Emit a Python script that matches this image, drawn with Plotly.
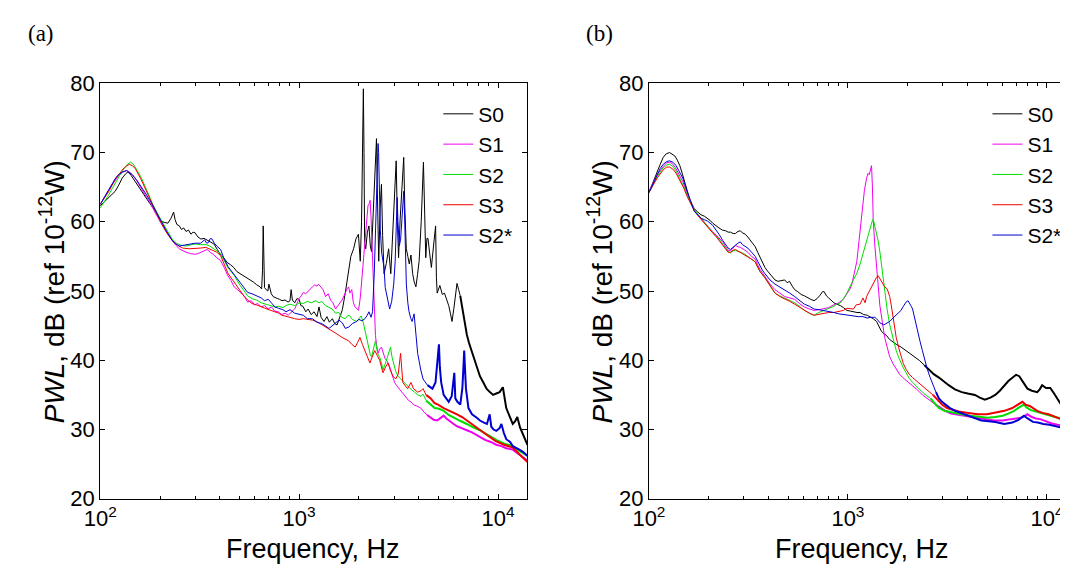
import plotly.graph_objects as go

# ---------------- data ----------------
names = ["S0", "S1", "S2", "S3", "S2*"]
colors = ["#000000", "#f000f0", "#00dd00", "#f00000", "#0000d0"]

# panel (a)
a_f_S0 = [100,106,111,115,119,124,129,134,138,143,150,158,168,178,188,196,203,210,219,227,234,238,243,250,256,263,270,278,286,293,300,310,321,333,346,358,373,388,403,418,435,452,469,487,506,526,546,568,589,612,636,648,655,660,664,670,683,697,705,713,725,740,760,780,798,820,850,880,900,912,925,950,975,1000,1020,1045,1081,1110,1150,1190,1230,1259,1290,1334,1380,1420,1470,1510,1552,1600,1650,1706,1740,1774,1820,1879,1930,1987,2030,2060,2085,2104,2120,2135,2163,2205,2245,2280,2313,2360,2410,2449,2475,2514,2555,2594,2630,2674,2745,2819,2890,2960,3030,3076,3120,3163,3220,3290,3357,3400,3459,3520,3581,3650,3723,3790,3865,3940,4012,4110,4217,4280,4333,4390,4446,4530,4624,4740,4855,4900,4945,5100,5250,5380,5520,5650,5760,5872,6000,6120,6220,6340,6460,6650,6840,6970,7150,7350,7516,7700,7900,8110,8400,8755,9100,9447,9800,10190,10580,10800,11000,11400,11860,12200,12500,12900,13400,13800,14060]
a_db_S0 = [62.3,63.0,63.7,64.0,64.4,65.3,66.3,66.9,67.2,66.7,65.8,64.7,63.6,62.6,61.7,60.8,60.1,59.9,59.8,60.5,61.4,60.3,59.6,59.4,58.9,59.1,58.6,58.8,58.2,58.5,58.4,57.8,57.5,57.6,57.3,57.1,56.8,56.0,55.2,54.8,54.1,53.8,53.4,52.8,52.5,52.3,52.0,51.6,51.3,50.9,50.6,50.3,53.0,59.4,53.5,50.5,50.2,50.0,51.0,50.2,49.6,49.2,49.0,48.9,48.8,48.6,48.7,48.4,48.6,50.2,48.7,48.3,48.9,48.8,47.9,47.8,47.0,47.4,46.6,47.0,46.3,47.7,46.2,45.6,46.3,45.5,46.0,45.3,45.1,46.2,47.3,49.7,51.5,52.5,55.0,56.1,57.5,58.2,54.3,60.0,72.0,79.2,70.0,57.0,56.1,58.5,59.4,56.5,55.7,62.0,69.0,72.0,64.0,54.3,62.0,65.4,58.0,52.5,54.0,56.1,52.5,58.0,64.0,68.8,60.0,54.8,60.3,65.0,69.3,62.0,56.1,55.0,53.9,55.2,52.5,51.3,50.6,52.4,54.3,60.0,68.6,61.0,54.8,57.6,57.6,55.5,53.4,56.5,59.4,52.0,49.7,50.8,49.5,49.7,48.8,47.9,46.8,45.6,47.5,49.5,51.1,50.2,49.3,47.2,45.1,43.7,42.5,41.4,40.5,39.5,38.6,37.7,36.9,35.9,35.4,35.0,35.2,35.4,36.1,34.5,33.1,32.0,30.8,31.2,31.8,30.3,29.2,28.3,27.8]

a_f_S1 = [100,105,110,115,120,125,130,136,141,145,152,160,170,180,190,200,210,220,230,240,250,260,270,285,300,310,320,332,345,357,370,386,403,420,437,455,471,490,510,530,551,575,597,620,645,670,698,725,755,785,817,850,883,915,955,985,1000,1030,1050,1080,1110,1140,1167,1200,1230,1250,1290,1320,1358,1400,1440,1480,1524,1560,1600,1644,1700,1740,1775,1800,1840,1870,1900,1940,1990,2030,2070,2110,2150,2190,2220,2250,2275,2300,2330,2360,2390,2420,2450,2495,2540,2594,2640,2700,2780,2850,2930,3020,3100,3200,3290,3381,3450,3550,3648,3750,3900,4090,4250,4400,4586,4750,4945,5150,5330,5500,5700,5980,6200,6500,6970,7400,7800,8110,8600,9200,9790,10400,11000,11860,12600,13300,14060]
a_db_S1 = [62.5,63.6,64.5,65.4,66.2,66.8,67.2,67.4,67.1,66.8,66.0,65.0,63.8,62.5,61.2,60.0,59.0,58.1,57.3,56.6,56.1,55.8,55.6,55.4,55.3,55.4,55.6,55.8,56.0,55.6,55.3,54.8,54.4,53.4,52.3,51.5,50.6,50.2,49.8,49.3,48.4,48.6,48.0,48.2,47.7,47.9,47.4,47.7,47.1,47.0,46.6,46.8,46.5,47.0,47.5,48.5,48.9,49.4,49.8,49.6,50.0,50.3,50.6,50.9,50.7,51.0,50.5,50.2,49.2,49.6,48.7,48.3,47.4,47.8,48.2,48.7,49.6,50.3,50.6,49.7,50.2,48.5,47.8,47.5,47.2,49.0,52.0,55.0,58.5,61.0,62.3,62.6,63.1,60.5,56.0,51.0,46.5,43.6,42.3,41.0,41.6,41.9,41.2,40.3,39.8,39.1,38.0,36.8,36.3,35.8,35.5,35.0,34.7,34.2,34.0,33.6,33.4,33.1,32.5,32.1,31.7,31.4,31.3,31.7,32.0,31.6,31.2,30.8,30.5,30.3,29.9,29.6,29.2,29.0,28.5,28.2,27.8,27.6,27.3,27.1,26.5,26.0,25.5]

a_f_S2 = [100,105,110,115,120,126,132,137,142,146,152,160,170,184,200,215,230,242,255,270,285,300,320,340,355,370,386,403,420,440,471,500,530,551,580,610,645,680,720,755,790,829,860,900,950,1002,1050,1100,1150,1213,1260,1300,1358,1420,1466,1524,1580,1640,1706,1750,1790,1850,1950,2000,2050,2100,2150,2228,2280,2313,2370,2420,2480,2540,2600,2641,2720,2800,2882,2930,2990,3060,3143,3260,3381,3480,3620,3800,3945,4100,4200,4350,4586,4800,5050,5330,5650,5980,6400,6970,7500,8110,8900,9790,10700,11860,12800,14060]
a_db_S2 = [62.0,62.9,63.8,64.8,65.8,66.8,67.7,68.3,68.6,68.4,67.6,66.5,64.8,62.5,60.5,59.0,57.5,56.9,56.6,56.5,56.6,56.8,56.7,56.7,56.5,56.2,55.8,55.4,54.4,53.3,52.3,51.0,50.0,49.3,48.9,48.7,48.3,48.1,47.9,47.7,47.8,47.6,47.9,48.1,47.9,48.3,48.2,48.5,48.3,48.6,48.3,48.5,47.9,47.6,47.4,46.8,46.9,46.2,46.0,46.4,46.5,45.9,45.6,46.0,46.4,45.5,44.0,41.9,40.8,40.5,42.0,42.8,41.0,40.5,39.5,38.6,39.6,40.8,41.9,40.5,39.5,38.4,37.7,37.2,36.8,36.3,35.9,35.4,35.0,34.8,35.1,34.2,33.6,33.1,33.0,32.7,32.1,31.7,31.3,30.8,30.3,29.9,29.2,28.5,28.0,27.6,26.9,26.2]

a_f_S3 = [100,105,110,115,120,125,130,135,140,145,150,160,170,180,190,200,215,230,245,260,280,300,320,340,355,370,386,403,420,440,471,500,530,551,580,610,645,680,720,755,790,820,860,900,950,1000,1050,1100,1167,1240,1310,1390,1466,1550,1644,1710,1775,1840,1914,1970,2023,2080,2143,2210,2270,2340,2400,2470,2542,2600,2641,2720,2800,2880,2965,3060,3150,3237,3290,3322,3420,3516,3650,3760,3945,4100,4200,4350,4586,4800,5000,5330,5650,5900,6220,6600,6970,7500,8110,8900,9790,10700,11860,12800,14060]
a_db_S3 = [62.5,63.4,64.3,65.3,66.3,66.9,67.6,68.0,68.3,68.1,67.7,66.2,64.5,62.9,61.5,60.1,58.5,57.3,56.6,56.2,56.1,56.1,56.2,56.3,56.1,55.9,55.6,55.1,53.8,52.5,51.3,50.2,49.2,48.7,48.2,48.0,47.7,47.5,47.2,47.0,46.8,46.5,46.3,46.2,46.0,45.9,46.0,45.9,45.8,45.5,45.1,44.6,44.2,43.8,43.3,43.0,42.8,42.3,41.9,42.6,43.3,42.3,41.4,40.4,39.6,40.6,41.4,40.7,40.0,38.9,38.2,39.0,39.6,38.5,37.7,37.3,38.0,41.0,38.0,36.8,36.3,35.9,36.8,35.9,35.4,35.6,35.9,35.0,34.5,33.8,33.6,33.1,32.8,32.5,32.2,31.8,31.3,30.6,29.9,29.1,28.3,27.8,27.4,26.5,25.3]

a_f_S2s = [100,105,110,115,120,125,130,136,141,145,152,160,170,180,190,200,215,230,240,250,265,280,300,320,335,343,350,358,365,375,385,403,420,440,471,500,530,551,580,610,645,670,700,730,755,790,829,860,900,950,1000,1050,1100,1167,1230,1300,1350,1413,1500,1585,1650,1706,1780,1850,1920,2000,2070,2143,2200,2245,2300,2340,2387,2420,2449,2475,2494,2510,2530,2560,2600,2674,2710,2749,2800,2852,2920,2990,3041,3080,3111,3140,3190,3240,3300,3357,3390,3420,3460,3520,3570,3648,3700,3785,3860,3945,4090,4200,4417,4680,4850,4960,5047,5100,5180,5330,5650,5850,6030,6100,6250,6460,6620,6700,6760,6830,6900,7100,7400,7820,8110,8500,8800,9080,9250,9500,9800,10190,10400,10700,11000,11500,11860,12600,13300,14060]
a_db_S2s = [62.5,63.6,64.6,65.5,66.4,66.9,67.2,67.4,67.1,66.8,66.1,65.2,64.0,62.8,61.5,60.3,58.7,57.3,56.8,56.5,56.6,56.8,56.9,56.9,57.4,56.9,57.0,57.6,57.5,56.9,56.5,56.0,54.6,53.5,52.4,51.3,50.4,49.8,49.6,49.3,49.0,48.6,48.8,48.2,47.7,47.5,47.3,47.0,47.3,46.8,46.6,46.5,46.0,46.0,45.5,45.3,45.0,44.6,45.2,45.8,45.4,44.6,44.8,45.3,45.5,45.9,45.7,46.0,46.5,47.0,46.2,47.0,52.5,58.0,63.5,68.5,71.3,70.0,64.0,58.9,55.5,53.4,50.5,49.7,48.5,47.4,48.5,51.0,54.3,60.0,63.5,60.0,56.5,57.5,61.0,64.4,61.0,56.0,51.0,48.3,47.0,46.0,45.6,46.7,44.0,41.0,38.6,37.3,36.4,35.9,36.8,39.5,42.3,39.0,36.8,35.0,34.0,34.8,38.2,34.5,34.0,33.6,36.0,39.0,41.4,38.5,35.9,33.1,32.2,31.7,31.3,31.0,30.8,32.2,30.4,30.0,29.8,30.2,30.8,29.5,28.6,28.2,27.6,27.2,26.8,26.2]

# panel (b)
b_f_S0 = [100,105,110,114,118,122,127,131,135,139,143,147,151,155,160,165,169,176,183,190,197,203,209,217,225,234,243,250,257,265,272,280,288,295,305,314,323,332,342,352,362,372,383,394,406,418,430,445,460,481,495,509,525,540,560,582,605,627,650,676,700,725,745,760,780,800,825,850,880,916,950,989,1030,1067,1110,1151,1200,1250,1291,1340,1393,1430,1473,1520,1560,1620,1690,1748,1850,1960,2100,2281,2420,2555,2700,2866,3030,3208,3450,3733,4000,4348,4600,4876,5200,5500,5800,6112,6400,6728,7000,7260,7600,7980,8400,8940,9200,9460,9900,10400,10800,11220,11700,12100,12760,13400,14000]
b_db_S0 = [64.2,65.8,67.2,68.3,69.3,69.8,70.0,69.8,69.5,68.9,68.1,67.0,65.8,64.6,63.3,62.5,61.9,61.4,61.0,60.8,60.5,60.2,59.8,59.4,59.1,58.8,58.7,58.5,58.5,58.3,58.3,58.6,58.7,58.4,58.2,57.8,57.3,56.9,56.4,55.6,54.8,54.0,53.4,52.9,52.5,52.0,51.6,51.4,51.5,51.6,51.2,51.4,50.7,50.2,49.9,49.5,49.3,49.0,48.8,48.6,48.9,49.4,49.9,49.9,49.3,49.0,48.6,48.3,48.1,47.9,47.6,47.2,47.1,47.0,46.9,46.9,46.6,46.5,46.3,46.0,45.6,45.0,44.2,43.8,43.6,43.0,42.6,42.3,41.9,41.4,40.8,40.0,39.3,38.7,38.0,37.5,36.9,36.4,35.8,35.4,35.2,35.0,34.6,34.3,34.6,35.0,35.6,36.4,37.0,37.5,37.9,37.7,36.8,35.9,35.6,35.4,35.8,36.4,36.0,36.0,35.3,34.5,33.8,33.1,32.2,31.5,31.0]

b_f_S1 = [100,105,110,118,123,127,131,136,142,148,155,160,166,173,183,190,197,209,217,225,235,243,250,257,265,272,280,288,300,314,328,342,352,362,383,406,430,455,481,510,540,570,604,640,676,715,758,800,850,900,948,990,1024,1047,1080,1109,1130,1151,1180,1210,1241,1262,1280,1298,1314,1328,1340,1366,1393,1420,1447,1490,1530,1575,1622,1685,1748,1815,1885,2000,2113,2240,2367,2550,2755,2920,3090,3300,3460,3800,4200,4680,5100,5455,6000,6600,7000,7390,7700,7980,8400,8800,9260,9800,10500,11300,12100,12760,13400,14000]
b_db_S1 = [64.4,65.6,66.8,68.0,68.5,68.6,68.4,67.8,66.8,65.8,64.3,63.2,62.3,61.3,60.5,59.9,59.4,58.6,58.1,57.6,57.1,56.4,55.9,55.8,56.3,56.6,56.4,56.3,56.0,55.6,55.0,54.6,53.8,53.1,52.1,51.0,50.2,49.7,49.2,49.0,48.8,48.2,47.7,47.4,47.2,47.3,47.4,47.6,48.0,48.3,48.8,49.6,50.3,51.0,52.7,54.3,56.5,58.9,62.0,64.5,66.3,67.0,66.8,67.6,68.1,65.0,60.3,56.5,53.4,50.5,47.9,45.5,43.3,41.9,40.5,39.5,38.7,38.0,37.5,36.9,36.4,35.7,35.0,34.3,33.6,33.1,32.7,32.3,32.2,32.0,31.8,31.5,31.4,31.3,31.3,31.5,31.6,31.7,31.9,32.2,31.8,31.6,31.5,31.2,30.9,30.7,30.6,30.5,30.4,30.3]

b_f_S2 = [100,105,110,118,123,127,132,137,143,150,156,162,169,176,183,190,197,209,217,225,235,243,250,257,265,272,280,290,300,314,328,342,352,362,383,406,430,455,481,510,540,570,604,640,676,715,758,800,818,850,880,916,950,989,1030,1066,1110,1151,1190,1241,1280,1310,1331,1350,1375,1400,1420,1447,1490,1530,1575,1622,1685,1748,1800,1849,1900,1960,2030,2113,2240,2367,2480,2600,2866,3060,3400,3700,4100,4600,5050,5500,6000,6400,6840,7250,7670,7900,8300,8800,9260,9900,10500,11200,12000,12760,13400,14000]
b_db_S2 = [64.3,65.4,66.5,67.8,68.2,68.3,68.0,67.3,66.3,65.0,63.8,62.8,61.8,61.1,60.5,59.9,59.3,58.5,57.9,57.5,56.8,56.1,55.7,55.5,55.8,55.9,55.7,55.6,55.4,55.0,54.6,54.2,53.4,52.8,51.9,50.8,49.7,49.3,49.0,48.6,48.3,47.8,47.2,46.8,46.5,46.9,47.2,47.5,47.6,47.8,48.1,48.3,48.9,49.7,50.8,51.6,52.6,53.9,55.3,57.1,58.7,59.7,60.3,60.0,59.0,58.2,57.2,55.7,52.5,49.7,47.3,45.1,43.0,41.4,40.4,39.6,38.9,38.2,37.4,36.8,36.0,35.4,34.9,34.5,33.1,32.7,32.4,32.2,32.0,31.8,31.7,31.8,32.0,32.3,32.7,33.2,33.6,33.2,32.8,32.6,32.4,32.2,32.0,31.7,31.5,31.3,31.1,31.0]

b_f_S3 = [100,105,110,118,123,127,132,137,143,150,156,162,169,176,183,190,197,209,217,225,235,243,250,257,265,272,280,290,300,314,328,342,352,362,383,406,430,455,481,510,540,570,604,640,676,715,758,800,850,900,950,989,1030,1067,1100,1151,1190,1220,1241,1280,1310,1340,1370,1393,1420,1447,1475,1500,1530,1575,1622,1650,1683,1715,1748,1800,1849,1900,1960,2030,2113,2240,2367,2500,2675,2820,2970,3150,3358,3600,4030,4500,5000,5500,6112,6700,7200,7530,7800,8200,8940,9500,10200,11000,11800,12760,13400,14000]
b_db_S3 = [64.2,65.3,66.3,67.5,67.9,67.9,67.6,67.0,66.0,64.8,63.6,62.6,61.6,60.9,60.3,59.8,59.3,58.4,57.9,57.3,56.6,56.0,55.6,55.6,55.9,56.0,55.8,55.5,55.3,55.0,54.6,54.2,53.4,52.8,51.9,50.8,49.7,49.2,48.8,48.5,48.1,47.7,47.2,46.8,46.5,46.6,46.7,46.9,46.9,47.0,47.2,47.5,47.4,47.4,48.0,48.1,49.0,48.3,49.2,49.9,50.4,51.1,51.6,52.0,52.2,51.8,51.3,51.0,50.6,50.3,49.2,48.0,46.5,44.8,43.3,41.8,40.5,39.5,38.7,38.0,37.5,36.9,36.4,35.7,35.0,34.3,33.6,33.1,32.9,32.6,32.4,32.2,32.2,32.4,32.7,33.1,33.6,34.0,33.6,33.4,32.7,32.4,32.2,31.8,31.5,31.1,30.9,30.7]

b_f_S2s = [100,105,110,114,118,123,127,132,137,143,148,154,160,165,169,176,183,190,197,209,217,225,235,243,250,257,265,272,280,288,295,305,314,328,342,352,362,372,383,394,406,430,455,481,510,540,570,604,640,676,715,758,800,850,900,948,989,1030,1080,1130,1190,1250,1300,1364,1393,1450,1515,1570,1622,1685,1748,1800,1849,1900,1960,2005,2040,2080,2113,2170,2234,2300,2367,2430,2506,2590,2675,2770,2866,2970,3090,3260,3460,3750,4030,4350,4680,5100,5500,6112,6700,7200,7670,8000,8500,9000,9600,10300,11000,11800,12760,13400,14000]
b_db_S2s = [64.2,65.5,66.8,67.7,68.3,68.7,68.8,68.6,68.1,67.2,66.3,64.8,63.3,62.3,61.5,61.0,60.5,60.3,60.1,59.5,58.9,58.2,57.3,56.6,56.2,56.0,56.4,56.6,56.9,57.1,56.7,56.4,56.2,55.6,55.0,54.3,53.6,53.0,52.5,52.0,51.6,51.0,50.6,50.2,49.7,49.2,48.6,48.1,47.8,47.4,47.3,47.2,47.0,46.9,46.7,46.6,46.5,46.4,46.4,46.3,46.3,46.1,46.2,46.2,46.0,45.4,45.1,45.4,45.6,46.1,46.5,46.9,47.2,47.8,48.4,48.6,48.3,47.8,47.4,45.8,44.2,42.8,41.4,40.0,38.7,37.5,36.4,35.4,34.5,34.0,33.6,33.1,32.7,32.3,32.0,31.6,31.3,31.2,31.1,30.8,31.0,31.4,32.0,31.6,31.1,31.0,30.8,30.7,30.5,30.3,29.9,29.7,29.5]

panel_a = [(a_f_S0, a_db_S0), (a_f_S1, a_db_S1), (a_f_S2, a_db_S2), (a_f_S3, a_db_S3), (a_f_S2s, a_db_S2s)]
panel_b = [(b_f_S0, b_db_S0), (b_f_S1, b_db_S1), (b_f_S2, b_db_S2), (b_f_S3, b_db_S3), (b_f_S2s, b_db_S2s)]

x_tickvals = [100, 1000, 10000]
x_ticktext = ["10<sup>2</sup>", "10<sup>3</sup>", "10<sup>4</sup>"]
x_minor = [200, 300, 400, 500, 600, 700, 800, 900, 2000, 3000, 4000, 5000, 6000, 7000, 8000, 9000]
y_ticks = [20, 30, 40, 50, 60, 70, 80]

# ---------------- figure ----------------
W, H = 1068, 581
OFF = 8  # default page body margin: the figure starts 8 px in from the window corner
def fx(p): return (p - OFF) / W
def fy(p): return 1 - (p - OFF) / H

# tails are noisy in the original; draw them with a heavier stroke
tail_a = [6500, 4500, 4500, 4500, 4500]
tail_b = [2500, 2800, 2800, 2800, 2800]

fig = go.Figure()

def add_panel(data, tails, xa, ya, leg):
    for (f, db), name, col, cut in zip(data, names, colors, tails):
        lo = [i for i, v in enumerate(f) if v <= cut]
        hi = [i for i, v in enumerate(f) if v >= cut] or [len(f) - 1]
        if lo and hi[0] > lo[-1]:
            hi = [lo[-1]] + hi
        fig.add_trace(go.Scatter(x=[f[i] for i in lo], y=[db[i] for i in lo], mode="lines",
                                 name=name, line=dict(color=col, width=1), xaxis=xa, yaxis=ya,
                                 legend=leg, legendgroup=leg + name, showlegend=True))
        fig.add_trace(go.Scatter(x=[f[i] for i in hi], y=[db[i] for i in hi], mode="lines",
                                 name=name, line=dict(color=col, width=2), xaxis=xa, yaxis=ya,
                                 legend=leg, legendgroup=leg + name, showlegend=False))

add_panel(panel_a, tail_a, "x", "y", "legend")
add_panel(panel_b, tail_b, "x2", "y2", "legend2")

font = "Liberation Sans, Arial, sans-serif"
common_x = dict(type="log", range=[2, 4.1461], showline=True, linecolor="black", linewidth=1,
                mirror="ticks", ticks="inside", ticklen=5, tickcolor="black", showgrid=False,
                zeroline=False, tickvals=x_tickvals, ticktext=x_ticktext,
                tickfont=dict(family=font, size=22, color="black"),
                minor=dict(ticks="inside", ticklen=3, tickcolor="black", tickvals=x_minor, showgrid=False))
common_y = dict(range=[20, 80], showline=True, linecolor="black", linewidth=1,
                ticks="inside", ticklen=5, tickcolor="black", showgrid=False, zeroline=False,
                tickvals=y_ticks, tickfont=dict(family=font, size=22, color="black"))

y_dom = [fy(508.3), fy(74.1)]
leg_common = dict(xanchor="left", yanchor="top", bgcolor="rgba(0,0,0,0)", borderwidth=0,
                  font=dict(family=font, size=21, color="black"), tracegroupgap=0)
fig.update_layout(
    width=W, height=H, margin=dict(l=0, r=0, t=0, b=0, pad=0),
    paper_bgcolor="white", plot_bgcolor="white",
    xaxis=dict(domain=[fx(84.4), fx(518.2)], anchor="y", **common_x),
    yaxis=dict(domain=y_dom, anchor="x", mirror="ticks", **common_y),
    xaxis2=dict(domain=[fx(642), min(1.0, fx(1076))], anchor="y2", **common_x),
    yaxis2=dict(domain=y_dom, anchor="x2", mirror=False, **common_y),
    legend=dict(x=fx(428), y=fy(85), **leg_common),
    legend2=dict(x=fx(986), y=fy(85), **leg_common),
    showlegend=True,
)

ytitle = "<i>PWL</i>, dB (ref 10<sup>-12</sup>W)"
serif = "Liberation Serif, Times New Roman, serif"
ann = [
    dict(text="(a)", x=fx(24), y=fy(22), font=dict(family=serif, size=23, color="black")),
    dict(text="(b)", x=fx(592), y=fy(22), font=dict(family=serif, size=23, color="black")),
    dict(text=ytitle, x=fx(35), y=fy(292), textangle=-90, font=dict(family=font, size=28, color="black")),
    dict(text=ytitle, x=fx(592), y=fy(292), textangle=-90, font=dict(family=font, size=28, color="black")),
    dict(text="Frequency, Hz", x=fx(301), y=fy(561), font=dict(family=font, size=27, color="black")),
    dict(text="Frequency, Hz", x=fx(859), y=fy(561), font=dict(family=font, size=27, color="black")),
]
for a in ann:
    a.update(xref="paper", yref="paper", showarrow=False, xanchor="center", yanchor="middle")
fig.update_layout(annotations=ann)

fig.write_html("out.html")
